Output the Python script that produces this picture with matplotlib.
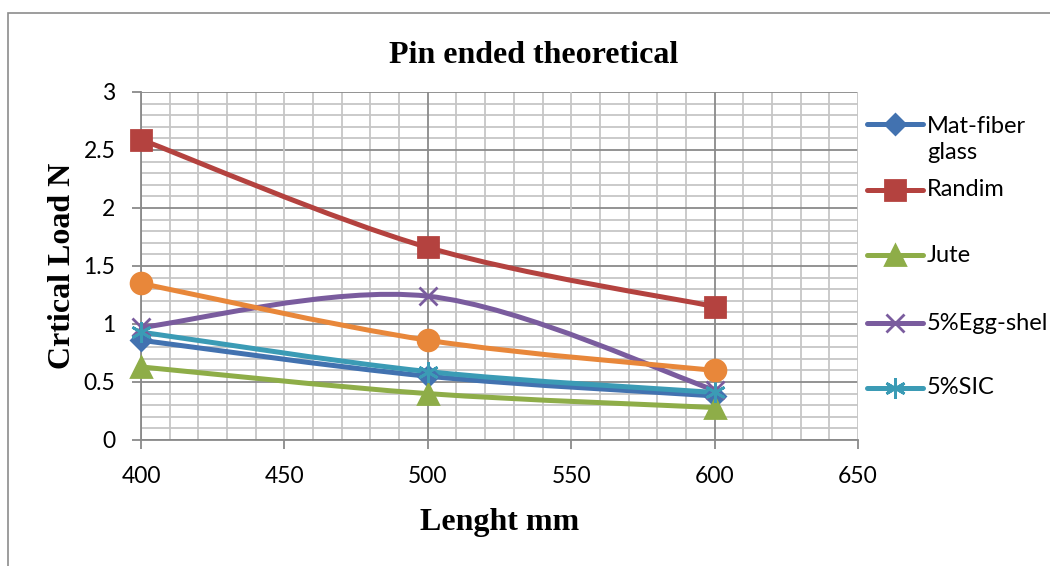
import numpy as np
import matplotlib.pyplot as plt
from matplotlib.path import Path
from matplotlib.patches import PathPatch, Rectangle
from matplotlib.ticker import MultipleLocator, FuncFormatter
from matplotlib.lines import Line2D

lengths = [400, 500, 600]
mat_fiber = [0.86, 0.55, 0.38]
randim = [2.59, 1.66, 1.15]
jute = [0.63, 0.40, 0.28]
egg_shel = [0.97, 1.24, 0.43]
sic = [0.93, 0.59, 0.41]
orange_series = [1.35, 0.86, 0.60]

# name, values, colour, marker, marker size, shown in legend
series = [
    ('Mat-fiber\nglass', mat_fiber, '#4272B0', 'D', 10, True),
    ('Randim', randim, '#B4423F', 's', 14, True),
    ('Jute', jute, '#8EAD48', '^', 14, True),
    ('5%Egg-shel', egg_shel, '#7A5C9E', 'x', 13, True),
    ('5%SIC', sic, '#3B9BB5', (6, 2, 0), 15, True),
    ('', orange_series, '#E8873A', 'o', 15, False),
]

W, H = 1050, 566
# legend rows (pixel y of each handle, from top)
legend_rows = [124, 190, 255, 323, 388]


def smooth_path(xs, ys):
    # Excel-like smoothed line: cubic Bezier with Catmull-Rom control points
    p = np.column_stack([xs, ys]).astype(float)
    n = len(p)
    verts = [p[0]]
    codes = [Path.MOVETO]
    for i in range(n - 1):
        prev = p[i - 1] if i > 0 else p[i]
        nxt = p[i + 2] if i + 2 < n else p[i + 1]
        c1 = p[i] + (p[i + 1] - prev) / 6
        c2 = p[i + 1] - (nxt - p[i]) / 6
        verts += [c1, c2, p[i + 1]]
        codes += [Path.CURVE4] * 3
    return Path(verts, codes)


fig = plt.figure(figsize=(W / 100, H / 100), dpi=100)
ax = fig.add_axes([141 / W, 1 - 440 / H, 717 / W, 348 / H])

fig.patches.append(Rectangle((8 / W, -0.1), 1.0, 1.1 - 13 / H, transform=fig.transFigure,
                             fill=False, edgecolor='#8c8c8c', linewidth=1.2))

for name, vals, color, marker, ms, in_legend in series:
    ax.add_patch(PathPatch(smooth_path(lengths, vals), facecolor='none',
                           edgecolor=color, linewidth=3.6, capstyle='round', zorder=3))
    ax.plot(lengths, vals, linestyle='none', marker=marker, markersize=ms,
            color=color, markeredgewidth=2, zorder=4, clip_on=False)

ax.set_xlim(400, 650)
ax.set_ylim(0, 3)
ax.xaxis.set_major_locator(MultipleLocator(50))
ax.xaxis.set_minor_locator(MultipleLocator(10))
ax.yaxis.set_major_locator(MultipleLocator(0.5))
ax.yaxis.set_minor_locator(MultipleLocator(0.1))
ax.yaxis.set_major_formatter(FuncFormatter(lambda v, p: f'{v:g}'))

ax.grid(which='minor', color='#c6c6c6', linewidth=1.3, zorder=0)
ax.grid(which='major', axis='y', color='#8a8a8a', linewidth=1.3, zorder=1)
ax.set_axisbelow(True)
for xv in [400, 500, 600]:
    ax.axvline(xv, color='#8a8a8a', linewidth=1.3, zorder=1)
for xv in [450, 550, 650]:
    ax.axvline(xv, color='#c6c6c6', linewidth=1.3, zorder=1)

for s in ['top', 'right']:
    ax.spines[s].set_visible(False)
for s in ['left', 'bottom']:
    ax.spines[s].set_color('#8a8a8a')
    ax.spines[s].set_linewidth(1.3)
ax.tick_params(which='major', length=6.5, width=1.3, color='#8a8a8a', labelsize=16.5)
ax.tick_params(axis='x', pad=12)
ax.tick_params(axis='y', pad=12)
ax.tick_params(which='minor', length=0)
for lab in ax.get_xticklabels() + ax.get_yticklabels():
    lab.set_fontfamily('Lato')

fig.text(533.5 / W, 1 - 63 / H, 'Pin ended theoretical', fontfamily='Liberation Serif',
         fontweight='bold', fontsize=23, ha='center', va='baseline')
ax.set_xlabel('Lenght mm', fontfamily='Liberation Serif', fontweight='bold', fontsize=23)
ax.xaxis.set_label_coords(0.5, (440 - 530) / 348)
ax.xaxis.label.set_va('baseline')
ax.set_ylabel('Crtical Load N', fontfamily='Liberation Serif', fontweight='bold', fontsize=23)
ax.yaxis.set_label_coords((70 - 141) / 717, 0.5)
ax.yaxis.label.set_va('baseline')

# legend drawn row by row (Excel layout has uneven spacing)
legend_series = [s for s in series if s[5]]
for (name, vals, color, marker, ms, _), ypx in zip(legend_series, legend_rows):
    yf = 1 - ypx / H
    fig.add_artist(Line2D([867 / W, 923 / W], [yf, yf], transform=fig.transFigure,
                          color=color, linewidth=3.6, solid_capstyle='round'))
    fig.add_artist(Line2D([895 / W], [yf], transform=fig.transFigure, color=color,
                          marker=marker, markersize=ms, markeredgewidth=2))
    nlines = name.count('\n')
    fig.text(927 / W, 1 - (ypx + nlines * 15.5) / H, name, fontfamily='Lato', fontsize=17,
             ha='left', va='center', linespacing=1.3)

fig.savefig('out.png', dpi=100)
